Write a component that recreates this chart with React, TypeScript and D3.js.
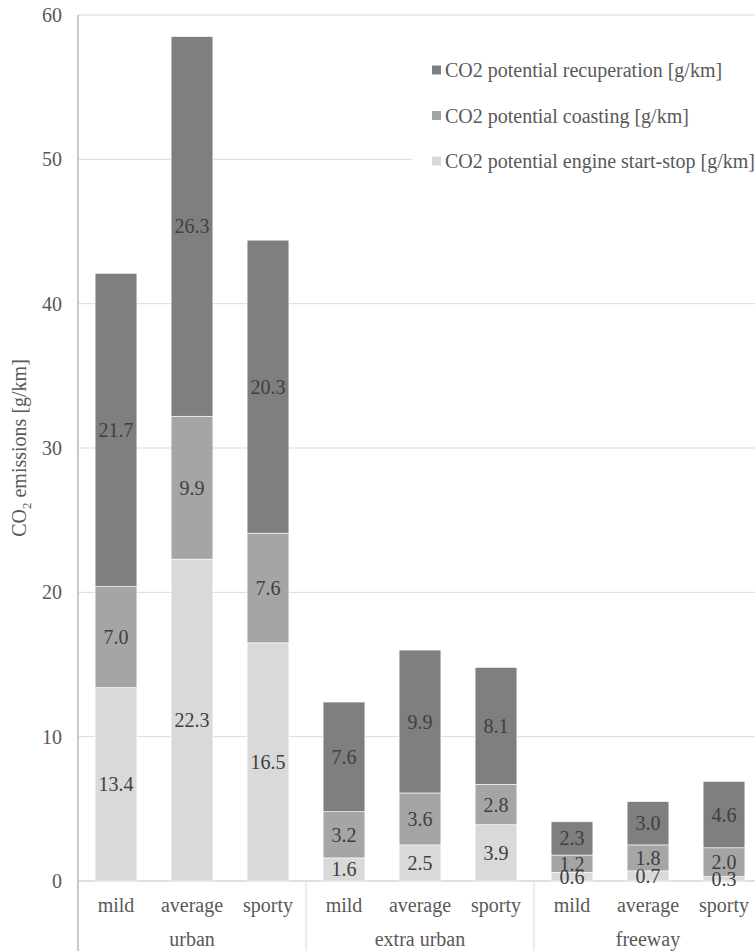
import React from "react";
import * as d3 from "d3";

const groups = ["urban", "extra urban", "freeway"];
const styles = ["mild", "average", "sporty"];
const seriesNames = [
  "CO2 potential engine start-stop [g/km]",
  "CO2 potential coasting [g/km]",
  "CO2 potential recuperation [g/km]",
];
const seriesColors = ["#d9d9d9", "#a5a5a5", "#7f7f7f"];
// per category: urban mild/average/sporty, extra urban ..., freeway ...
const startStop = [13.4, 22.3, 16.5, 1.6, 2.5, 3.9, 0.6, 0.7, 0.3];
const coasting = [7.0, 9.9, 7.6, 3.2, 3.6, 2.8, 1.2, 1.8, 2.0];
const recuperation = [21.7, 26.3, 20.3, 7.6, 9.9, 8.1, 2.3, 3.0, 4.6];
const yTicks = [0, 10, 20, 30, 40, 50, 60];

const W = 755;
const H = 951;
const left = 78;
const right = 762;
const top = 15;
const bottom = 881;
const FONT = "'Liberation Serif', 'Times New Roman', 'DejaVu Serif', serif";
const tf = { fontFamily: FONT };

export default function App() {
  const cats = groups.flatMap((g) => styles.map((s) => `${g}|${s}`));
  const x = d3
    .scaleBand<string>()
    .domain(cats)
    .range([left, right])
    .paddingInner(0.45)
    .paddingOuter(0.225);
  const y = d3.scaleLinear().domain([0, 60]).range([bottom, top]);

  const rows = cats.map((c, i) => ({
    cat: c,
    s0: startStop[i],
    s1: coasting[i],
    s2: recuperation[i],
  }));
  const stack = d3.stack<any>().keys(["s0", "s1", "s2"])(rows);

  const groupW = (right - left) / groups.length;

  return (
    <svg
      width={W}
      height={H}
      style={{ position: "absolute", left: 0, top: 0, background: "#fff", fontFamily: FONT }}
    >
      {yTicks.map((t) => (
        <line
          key={t}
          x1={left}
          x2={right}
          y1={y(t)}
          y2={y(t)}
          stroke={t === 0 ? "#bfbfbf" : "#d9d9d9"}
          strokeWidth={1}
        />
      ))}
      <line x1={left} x2={left} y1={top} y2={H} stroke="#a6a6a6" strokeWidth={1.2} />
      {yTicks.map((t) => (
        <text
          key={t}
          x={62}
          y={y(t)}
          dy="0.35em"
          textAnchor="end"
          fontSize={20}
          fill="#595959"
          style={tf}
        >
          {t}
        </text>
      ))}
      <text
        transform={`translate(26,${(top + bottom) / 2}) rotate(-90)`}
        textAnchor="middle"
        fontSize={20}
        fill="#595959"
        style={tf}
      >
        CO<tspan fontSize={13} dy={5}>2</tspan>
        <tspan dy={-5}> emissions [g/km]</tspan>
      </text>
      {groups.map((g, gi) =>
        gi === 0 ? null : (
          <line
            key={g}
            x1={left + gi * groupW}
            x2={left + gi * groupW}
            y1={bottom}
            y2={H}
            stroke="#d9d9d9"
            strokeWidth={1}
          />
        )
      )}
      {stack.map((layer, li) =>
        layer.map((d, i) => (
          <rect
            key={`${li}-${i}`}
            x={x(cats[i])}
            width={x.bandwidth()}
            y={y(d[1])}
            height={y(d[0]) - y(d[1])}
            fill={seriesColors[li]}
            stroke="#ffffff"
            strokeWidth={0.6}
          />
        ))
      )}
      {stack.map((layer, li) =>
        layer.map((d, i) => (
          <text
            key={`l${li}-${i}`}
            x={(x(cats[i]) as number) + x.bandwidth() / 2}
            y={(y(d[0]) + y(d[1])) / 2}
            dy="0.35em"
            textAnchor="middle"
            fontSize={20}
            fill="#404040"
            style={tf}
          >
            {(d[1] - d[0]).toFixed(1)}
          </text>
        ))
      )}
      {cats.map((c, i) => (
        <text
          key={c}
          x={(x(c) as number) + x.bandwidth() / 2}
          y={912}
          textAnchor="middle"
          fontSize={20}
          fill="#595959"
          style={tf}
        >
          {styles[i % 3]}
        </text>
      ))}
      {groups.map((g, gi) => (
        <text
          key={g}
          x={left + (gi + 0.5) * groupW}
          y={946}
          textAnchor="middle"
          fontSize={20}
          fill="#595959"
          style={tf}
        >
          {g}
        </text>
      ))}
      <rect x={412} y={48} width={350} height={130} fill="#fff" />
      {[2, 1, 0].map((si, ri) => {
        const cy = 70 + ri * 45.5;
        return (
          <g key={si}>
            <rect x={432} y={cy - 4.5} width={9} height={9} fill={seriesColors[si]} />
            <text x={445} y={cy} dy="0.35em" fontSize={20} fill="#595959" style={tf}>
              {seriesNames[si]}
            </text>
          </g>
        );
      })}
    </svg>
  );
}
